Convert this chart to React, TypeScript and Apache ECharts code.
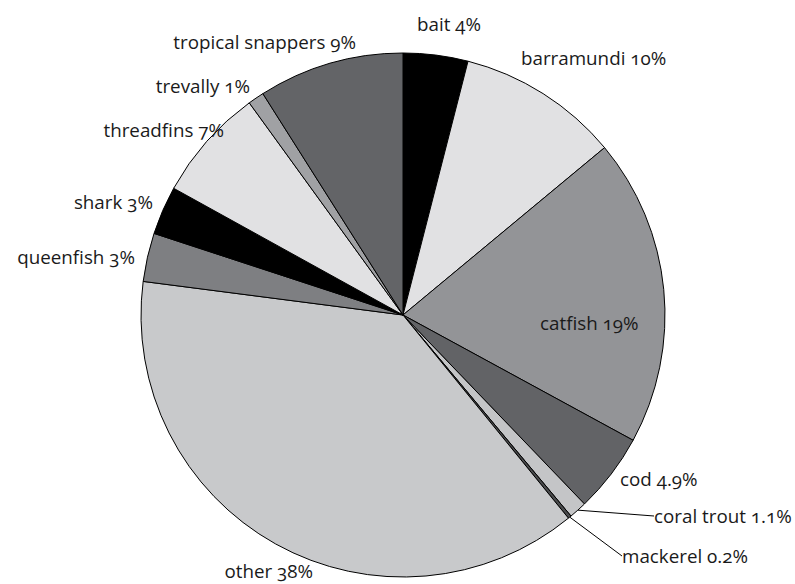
import React, { useEffect, useRef } from "react";
import * as echarts from "echarts";

// Share of catch by species (percent)
const species = [
  "bait",
  "barramundi",
  "catfish",
  "cod",
  "coral trout",
  "mackerel",
  "other",
  "queenfish",
  "shark",
  "threadfins",
  "trevally",
  "tropical snappers",
];
const shares = [4, 10, 19, 4.9, 1.1, 0.2, 38, 3, 3, 7, 1, 9];
const shareLabels = ["4%", "10%", "19%", "4.9%", "1.1%", "0.2%", "38%", "3%", "3%", "7%", "1%", "9%"];

// Slice fills, greyscale
const fills = [
  "#000000",
  "#e1e1e3",
  "#939497",
  "#626366",
  "#c4c5c7",
  "#4a4b4d",
  "#c8c9cb",
  "#7e7f82",
  "#000000",
  "#e1e1e3",
  "#a0a1a4",
  "#636467",
];

// Label anchor placement: [x, y, align]
const labelPlacement: [number, number, "left" | "right"][] = [
  [417, 24, "left"],
  [521, 58, "left"],
  [540, 323, "left"],
  [620, 479, "left"],
  [654, 516, "left"],
  [622, 556, "left"],
  [313, 571, "right"],
  [135, 257, "right"],
  [153, 202, "right"],
  [224, 130, "right"],
  [250, 86, "right"],
  [356, 42, "right"],
];
const guided = new Set(["coral trout", "mackerel"]);

export default function App() {
  const ref = useRef<HTMLDivElement>(null);
  useEffect(() => {
    if (!ref.current) return;
    const chart = echarts.init(ref.current, null, { renderer: "svg" });
    chart.setOption({
      animation: false,
      backgroundColor: "#ffffff",
      textStyle: { fontFamily: "Open Sans" },
      series: [
        {
          type: "pie",
          center: [403, 315],
          radius: [0, 262],
          startAngle: 90,
          clockwise: true,
          avoidLabelOverlap: false,
          itemStyle: { borderColor: "#000000", borderWidth: 1 },
          label: {
            show: true,
            position: "outside",
            formatter: (p: any) => `${p.name} ${shareLabels[p.dataIndex]}`,
            fontFamily: "Open Sans",
            fontSize: 18.8,
            color: "#1a1a1a",
          },
          labelLine: { show: false, lineStyle: { color: "#000000", width: 1 } },
          labelLayout: (p: any) => {
            const [x, y, align] = labelPlacement[p.dataIndex];
            return { x, y, align, verticalAlign: "middle" };
          },
          emphasis: { disabled: true },
          data: species.map((name, i) => ({
            name,
            value: shares[i],
            itemStyle: { color: fills[i] },
            labelLine: { show: guided.has(name), length: 10, length2: 0 },
          })),
        },
      ],
    });
    return () => chart.dispose();
  }, []);
  return (
    <div
      ref={ref}
      style={{
        position: "absolute",
        left: 0,
        top: 0,
        width: 795,
        height: 584,
        fontFeatureSettings: '"onum" 1',
      }}
    />
  );
}
